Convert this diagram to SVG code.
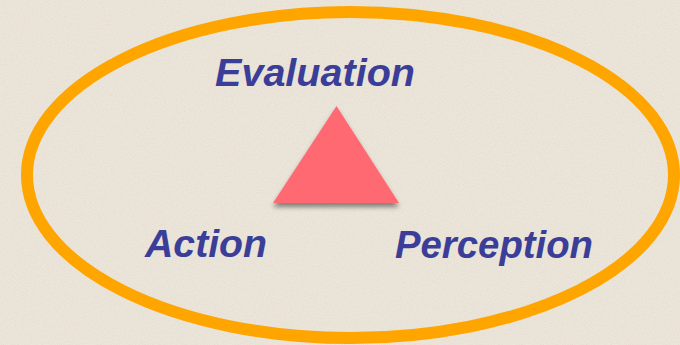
<svg xmlns="http://www.w3.org/2000/svg" width="680" height="345" viewBox="0 0 680 345">
  <defs>
    <filter id="grain" x="0" y="0" width="100%" height="100%">
      <feTurbulence type="fractalNoise" baseFrequency="0.9" numOctaves="2" seed="3" result="n"/>
      <feColorMatrix type="matrix" in="n" values="0 0 0 0 0.55  0 0 0 0 0.5  0 0 0 0 0.45  0 0 0 -1.6 1.0" result="a"/>
      <feComposite in="a" in2="SourceGraphic" operator="in"/>
    </filter>
    <filter id="shadow" x="-20%" y="-20%" width="140%" height="150%">
      <feGaussianBlur in="SourceAlpha" stdDeviation="2.5"/>
      <feOffset dx="0" dy="4" result="b"/>
      <feComponentTransfer><feFuncA type="linear" slope="0.45"/></feComponentTransfer>
      <feMerge><feMergeNode/><feMergeNode in="SourceGraphic"/></feMerge>
    </filter>
  </defs>
  <style>
    .lbl { font-family: "Liberation Sans", Arial, sans-serif; font-weight: bold; font-style: italic; font-size: 39px; fill: #3a3e98; }
  </style>
  <rect width="680" height="345" fill="#ece5da"/>
  <rect width="680" height="345" fill="#ece5da" filter="url(#grain)" opacity="0.25"/>
  <g id="cycle">
    <ellipse cx="350.5" cy="175" rx="323.5" ry="163" fill="none" stroke="#ffa500" stroke-width="12"/>
  </g>
  <g id="triangle">
    <polygon points="336.5,106 273,203 399,203" fill="#ff6b72" filter="url(#shadow)"/>
  </g>
  <g id="evaluation">
    <text class="lbl" x="215" y="86" textLength="200" lengthAdjust="spacingAndGlyphs">Evaluation</text>
  </g>
  <g id="action">
    <text class="lbl" x="145" y="257" textLength="122" lengthAdjust="spacingAndGlyphs">Action</text>
  </g>
  <g id="perception">
    <text class="lbl" x="395" y="258" textLength="198" lengthAdjust="spacingAndGlyphs">Perception</text>
  </g>
  <g id="connectors"/>
</svg>
